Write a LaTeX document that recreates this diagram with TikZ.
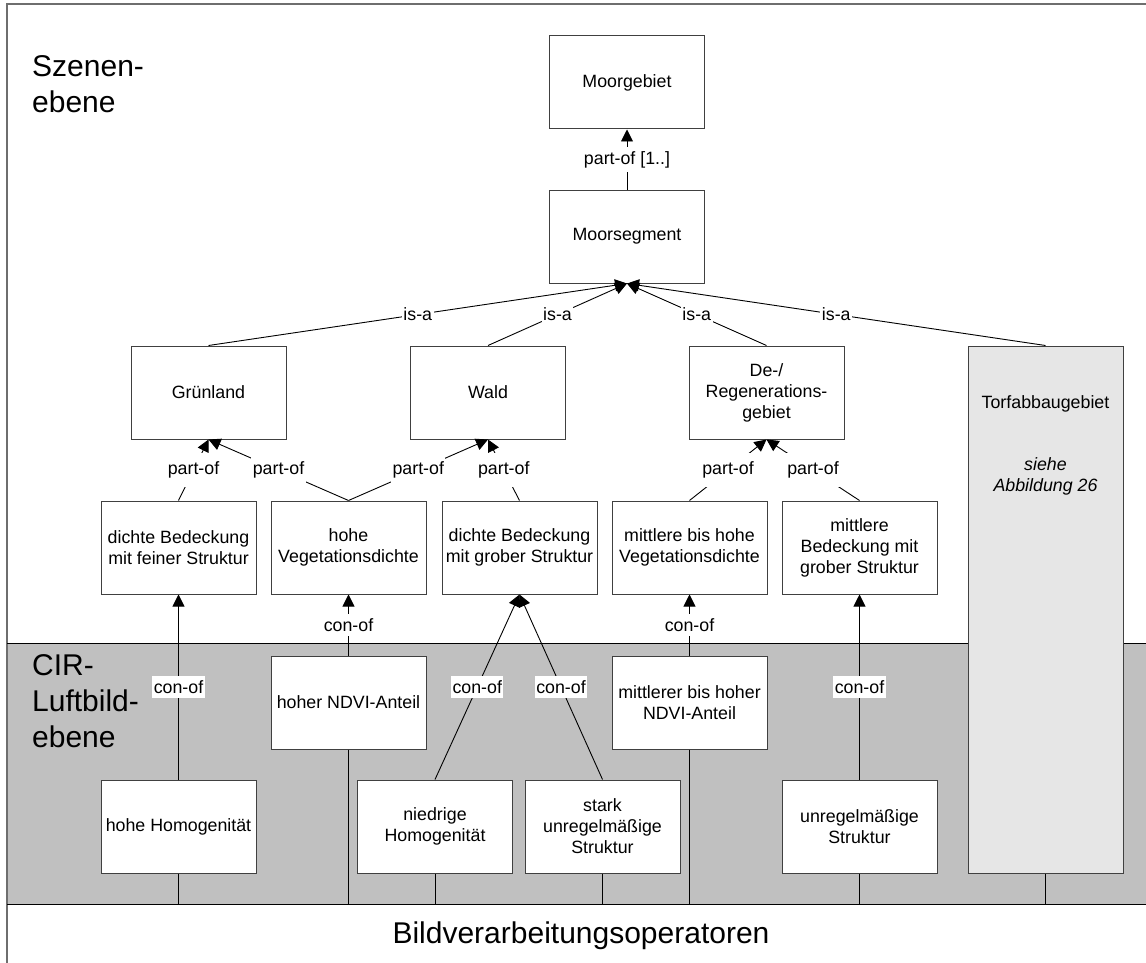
\documentclass[tikz,border=0pt]{standalone}
\usepackage{fontspec}
\setmainfont{Liberation Sans}
\usetikzlibrary{arrows.meta}
\definecolor{bandgray}{HTML}{C0C0C0}
\definecolor{torfgray}{HTML}{E6E6E6}
\definecolor{framegray}{HTML}{6E6E6E}
\definecolor{edgecol}{HTML}{404040}

\begin{document}
\begin{tikzpicture}[x=1pt,y=-1pt,
  box/.style={draw=edgecol, line width=1pt, fill=white, minimum width=155pt,
    minimum height=93pt, inner sep=2pt, align=center,
    font=\fontsize{17.8}{21}\selectfont},
  rel/.style={line width=0.9pt, -{Triangle[length=12pt,width=12pt]}},
  lbl/.style={fill=white, inner xsep=1.5pt, inner ysep=4pt,
    font=\fontsize{17.8}{21}\selectfont},
  plbl/.style={lbl, inner ysep=9pt},
  stub/.style={line width=0.9pt},
  layertext/.style={font=\fontsize{30}{36}\selectfont, align=left,
    inner sep=0pt, anchor=north west}
]
\useasboundingbox (0,0) rectangle (1146,963);

% layer bands and their borders
\fill[bandgray] (7,643) rectangle (1150,904);
\draw[framegray, line width=1.2pt] (7,970) -- (7,4) -- (1150,4);
\draw[line width=1pt] (7,643) -- (1150,643);
\draw[line width=1pt] (7,904) -- (1150,904);
\coordinate (bottomline) at (0,904);

% layer titles
\node[layertext] (scenetitle) at (32,55.5) {Szenen-\\ebene};
\node[layertext] (cirtitle) at (32,654.5) {CIR-\\Luftbild-\\ebene};
\node[font=\fontsize{30}{36}\selectfont, anchor=base] (optitle) at (581,943)
  {Bildverarbeitungsoperatoren};

% scene concepts
\node[box] (moorgebiet) at (627,82.5) {Moorgebiet};
\node[box] (moorsegment) at (627,236.5) {Moorsegment};
\node[box] (gruenland) at (208.5,392.5) {Grünland};
\node[box] (wald) at (488,392.5) {Wald};
\node[box] (degen) at (766.5,392.5) {De-/\\Regenerations-\\gebiet};
\node[box, fill=torfgray, minimum height=527pt] (torf) at (1045.5,609.5) {};
\node[font=\fontsize{17.8}{21}\selectfont, anchor=base] (torftitle)
  at (1045.5,408.3) {Torfabbaugebiet};
\node[font=\fontsize{17.8}{21}\selectfont\itshape, align=center] (torfref)
  at (1045.5,476) {siehe\\Abbildung 26};

\node[box] (dfein) at (178.5,547.5) {dichte Bedeckung\\mit feiner Struktur};
\node[box] (hveg) at (348.5,547.5) {hohe\\Vegetationsdichte};
\node[box] (dgrob) at (519.5,547.5) {dichte Bedeckung\\mit grober Struktur};
\node[box] (mveg) at (689.5,547.5) {mittlere bis hohe\\Vegetationsdichte};
\node[box] (mbed) at (859.5,547.5) {mittlere\\Bedeckung mit\\grober Struktur};

% CIR image concepts
\node[box] (hndvi) at (348.5,702.5) {hoher NDVI-Anteil};
\node[box] (mndvi) at (689.5,702.5) {mittlerer bis hoher\\NDVI-Anteil};
\node[box] (hhom) at (178.5,826.5) {hohe Homogenität};
\node[box] (nhom) at (435,826.5) {niedrige\\Homogenität};
\node[box] (sunr) at (602.5,826.5) {stark\\unregelmäßige\\Struktur};
\node[box] (unr) at (859.5,826.5) {unregelmäßige\\Struktur};

% relations
\draw[rel] (moorsegment.north) -- node[lbl] {part-of [1..]} (moorgebiet.south);

\draw[rel] (gruenland.north) -- node[lbl] {is-a} (moorsegment.south);
\draw[rel] (wald.north) -- node[lbl] {is-a} (moorsegment.south);
\draw[rel] (degen.north) -- node[lbl] {is-a} (moorsegment.south);
\draw[rel] (torf.north) -- node[lbl] {is-a} (moorsegment.south);

\draw[rel] (dfein.north) -- node[plbl] {part-of} (gruenland.south);
\draw[rel] (hveg.north) -- node[plbl] {part-of} (gruenland.south);
\draw[rel] (hveg.north) -- node[plbl] {part-of} (wald.south);
\draw[rel] (dgrob.north) -- node[plbl] {part-of} (wald.south);
\draw[rel] (mveg.north) -- node[plbl] {part-of} (degen.south);
\draw[rel] (mbed.north) -- node[plbl] {part-of} (degen.south);

\draw[rel] (hhom.north) -- node[lbl] {con-of} (dfein.south);
\draw[rel] (hndvi.north) -- node[lbl] {con-of} (hveg.south);
\draw[rel] (nhom.north) -- node[lbl] {con-of} (dgrob.south);
\draw[rel] (sunr.north) -- node[lbl] {con-of} (dgrob.south);
\draw[rel] (mndvi.north) -- node[lbl] {con-of} (mveg.south);
\draw[rel] (unr.north) -- node[lbl] {con-of} (mbed.south);

% links down to the operator layer
\foreach \n in {hhom,hndvi,nhom,sunr,mndvi,unr,torf}
  \draw[stub] (\n.south) -- (\n.south |- bottomline);
\end{tikzpicture}
\end{document}
